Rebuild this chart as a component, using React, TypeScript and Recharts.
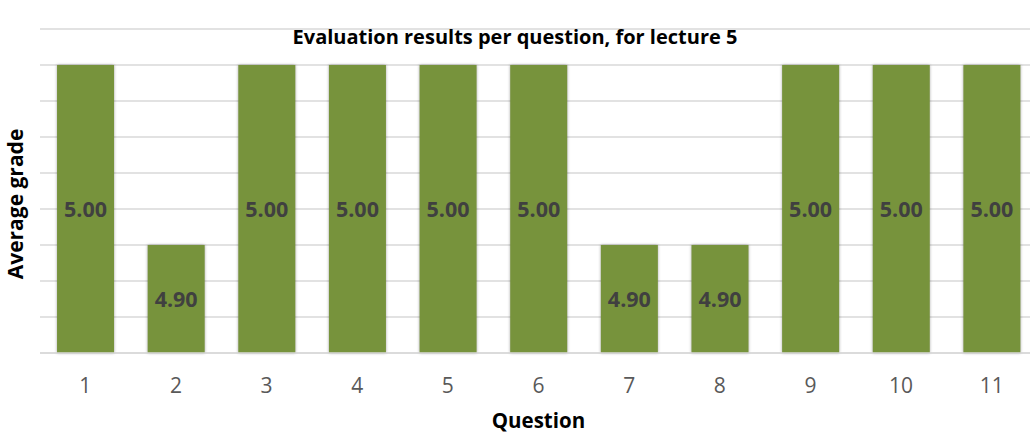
import { BarChart, Bar, XAxis, YAxis, CartesianGrid, LabelList } from "recharts";

const QUESTIONS = ["1", "2", "3", "4", "5", "6", "7", "8", "9", "10", "11"];
const AVERAGE_GRADES = [5.0, 4.9, 5.0, 5.0, 5.0, 5.0, 4.9, 4.9, 5.0, 5.0, 5.0];
const Y_TICKS = [4.84, 4.86, 4.88, 4.9, 4.92, 4.94, 4.96, 4.98, 5.0, 5.02];

const TITLE = "Evaluation results per question, for lecture 5";
const FONT = "'Open Sans', sans-serif";

export default function App() {
  const data = QUESTIONS.map((q, i) => ({ question: q, grade: AVERAGE_GRADES[i] }));

  return (
    <div style={{ position: "absolute", left: 0, top: 0, width: 1030, height: 433, overflow: "hidden", background: "#fff", fontFamily: FONT }}>
      <BarChart width={1040} height={433} data={data} margin={{ top: 29, right: 3, left: 0, bottom: 0 }} barCategoryGap="18.8%">
        <CartesianGrid vertical={false} stroke="#d9d9d9" strokeWidth={1.3} />
        <XAxis
          dataKey="question"
          height={80}
          tickLine={false}
          axisLine={{ stroke: "#d9d9d9", strokeWidth: 1.3 }}
          tick={{ fill: "#595959", fontSize: 21, fontFamily: FONT }}
          dy={17}
          label={{ value: "Question", position: "insideBottom", offset: 5, fill: "#000", fontSize: 20.5, fontWeight: 700, fontFamily: FONT }}
        />
        <YAxis
          width={40}
          domain={[4.84, 5.02]}
          ticks={Y_TICKS}
          tickFormatter={() => ""}
          tickLine={false}
          axisLine={false}
          label={{ value: "Average grade", angle: -90, position: "insideLeft", dx: 11, dy: 13, style: { textAnchor: "middle" }, fill: "#000", fontSize: 21, fontWeight: 700, fontFamily: FONT }}
        />
        <Bar dataKey="grade" fill="#77933c" isAnimationActive={false} style={{ filter: "drop-shadow(0px 0px 1.5px rgba(0,0,0,0.35))" }}>
          <LabelList
            dataKey="grade"
            position="center"
            formatter={(v: any) => Number(v).toFixed(2)}
            fill="#404040"
            fontSize={21.5}
            fontWeight={700}
            fontFamily={FONT}
          />
        </Bar>
      </BarChart>
      <div style={{ position: "absolute", top: 24, left: 0, width: 1030, textAlign: "center", fontSize: 20, fontWeight: 700, color: "#000", lineHeight: "26px" }}>
        {TITLE}
      </div>
    </div>
  );
}
